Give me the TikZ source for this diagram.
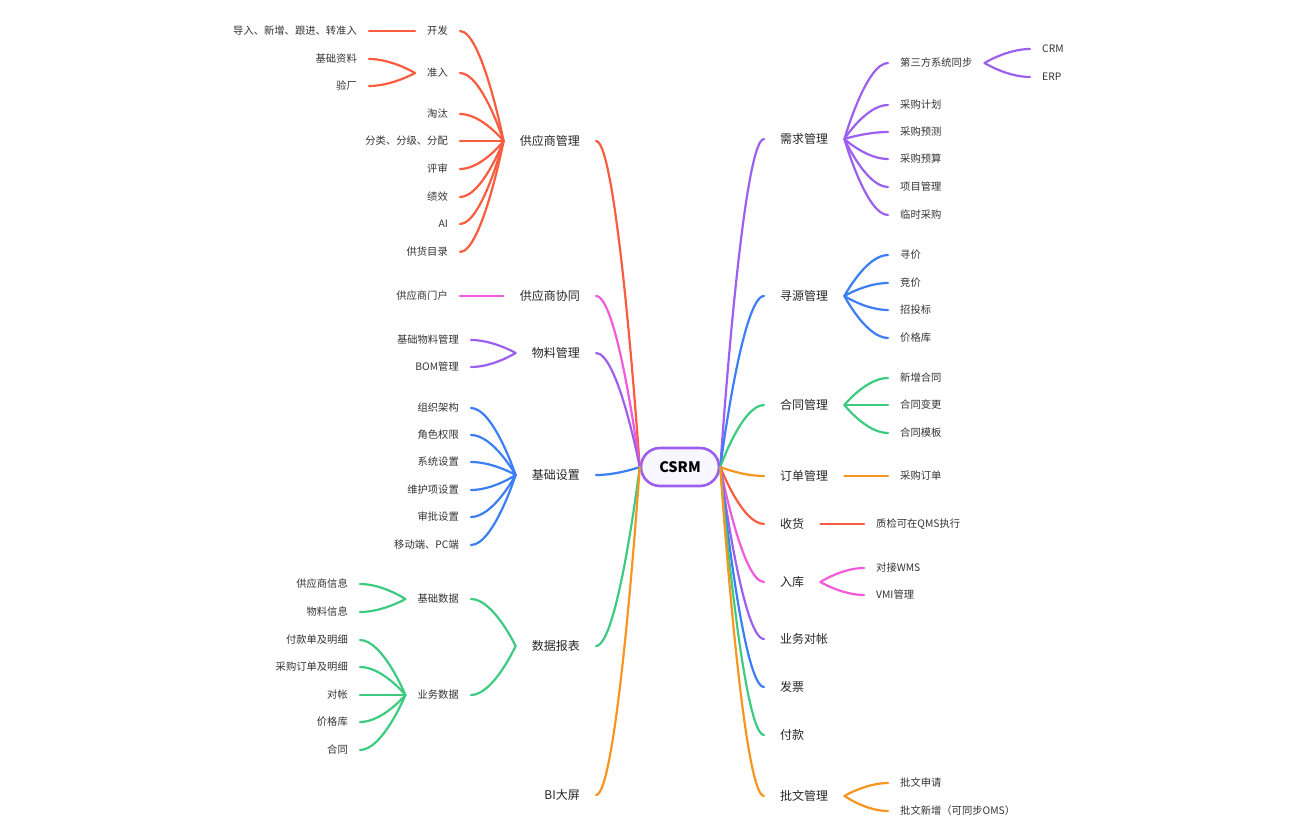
\documentclass[tikz,border=0pt]{standalone}
\usepackage{fontspec}
\setmainfont{Noto Sans CJK SC}
\usetikzlibrary{calc}
\definecolor{cred}{HTML}{F95C3E}
\definecolor{cpur}{HTML}{9C5FF0}
\definecolor{cblu}{HTML}{3C7EF6}
\definecolor{cgrn}{HTML}{3DCB80}
\definecolor{cpnk}{HTML}{F25ADC}
\definecolor{corg}{HTML}{F7951E}
\definecolor{txt}{HTML}{333333}
\definecolor{hubfill}{HTML}{F8F6FF}
\newcommand\mmlink[3]{\draw[link,#1] let \p1=(#2), \p2=(#3) in (\p1) .. controls ({\x1+0.5*(\x2-\x1)},\y1) and (\p2) .. (\p2);}
\begin{document}
\begin{tikzpicture}[x=1pt,y=-1pt,
  link/.style={line width=2.2pt,line cap=round},
  hub/.style={draw=cpur,line width=2.6pt,fill=hubfill,rounded corners=19pt,minimum width=78pt,minimum height=38pt,inner sep=0pt,font=\fontsize{14.5}{16}\selectfont\bfseries,text=black},
  lone/.style={font=\fontsize{12}{14}\selectfont,inner xsep=16pt,inner ysep=2pt,text=black!85,yshift=-1pt},
  ltwo/.style={font=\fontsize{10.3}{12}\selectfont,inner xsep=12pt,inner ysep=2pt,text=txt,yshift=-1pt},
  L/.style={anchor=east},
  R/.style={anchor=west}]
\useasboundingbox (0,0) rectangle (1296,840);
\node[hub] (c) at (680,467) {CSRM};
% left level 1
\node[lone,L] (s1) at (596,140) {供应商管理};
\node[lone,L] (s2) at (596,295) {供应商协同};
\node[lone,L] (s3) at (596,352) {物料管理};
\node[lone,L] (s4) at (596,474) {基础设置};
\node[lone,L] (s5) at (596,645) {数据报表};
\node[lone,L] (s6) at (596,794) {BI大屏};
% right level 1
\node[lone,R] (r1) at (764,138) {需求管理};
\node[lone,R] (r2) at (764,295) {寻源管理};
\node[lone,R] (r3) at (764,404) {合同管理};
\node[lone,R] (r4) at (764,475) {订单管理};
\node[lone,R] (r5) at (764,523) {收货};
\node[lone,R] (r6) at (764,581) {入库};
\node[lone,R] (r7) at (764,638) {业务对帐};
\node[lone,R] (r8) at (764,686) {发票};
\node[lone,R] (r9) at (764,734) {付款};
\node[lone,R] (r10) at (764,795) {批文管理};
% s1 children
\node[ltwo,L] (a1) at (460,30) {开发};
\node[ltwo,L] (a2) at (460,72) {准入};
\node[ltwo,L] (a3) at (460,113) {淘汰};
\node[ltwo,L] (a4) at (460,140) {分类、分级、分配};
\node[ltwo,L] (a5) at (460,168) {评审};
\node[ltwo,L] (a6) at (460,196) {绩效};
\node[ltwo,L] (a7) at (460,223) {AI};
\node[ltwo,L] (a8) at (460,251) {供货目录};
\node[ltwo,L] (a11) at (369,30) {导入、新增、跟进、转准入};
\node[ltwo,L] (a21) at (369,58) {基础资料};
\node[ltwo,L] (a22) at (369,85) {验厂};
% s2
\node[ltwo,L] (b1) at (460,295) {供应商门户};
% s3
\node[ltwo,L] (m1) at (471,339) {基础物料管理};
\node[ltwo,L] (m2) at (471,366) {BOM管理};
% s4
\node[ltwo,L] (j1) at (471,407) {组织架构};
\node[ltwo,L] (j2) at (471,434) {角色权限};
\node[ltwo,L] (j3) at (471,461) {系统设置};
\node[ltwo,L] (j4) at (471,489) {维护项设置};
\node[ltwo,L] (j5) at (471,516) {审批设置};
\node[ltwo,L] (j6) at (471,544) {移动端、PC端};
% s5
\node[ltwo,L] (d1) at (471,598) {基础数据};
\node[ltwo,L] (d2) at (471,694) {业务数据};
\node[ltwo,L] (d11) at (360,583) {供应商信息};
\node[ltwo,L] (d12) at (360,611) {物料信息};
\node[ltwo,L] (d21) at (360,639) {付款单及明细};
\node[ltwo,L] (d22) at (360,666) {采购订单及明细};
\node[ltwo,L] (d23) at (360,694) {对帐};
\node[ltwo,L] (d24) at (360,721) {价格库};
\node[ltwo,L] (d25) at (360,749) {合同};
% r1
\node[ltwo,R] (x1) at (888,62) {第三方系统同步};
\node[ltwo,R] (x2) at (888,104) {采购计划};
\node[ltwo,R] (x3) at (888,131) {采购预测};
\node[ltwo,R] (x4) at (888,158) {采购预算};
\node[ltwo,R] (x5) at (888,186) {项目管理};
\node[ltwo,R] (x6) at (888,214) {临时采购};
\node[ltwo,R] (x11) at (1030,48) {CRM};
\node[ltwo,R] (x12) at (1030,76) {ERP};
% r2
\node[ltwo,R] (y1) at (888,254) {寻价};
\node[ltwo,R] (y2) at (888,282) {竞价};
\node[ltwo,R] (y3) at (888,309) {招投标};
\node[ltwo,R] (y4) at (888,337) {价格库};
% r3
\node[ltwo,R] (h1) at (888,377) {新增合同};
\node[ltwo,R] (h2) at (888,404) {合同变更};
\node[ltwo,R] (h3) at (888,432) {合同模板};
% r4
\node[ltwo,R] (o1) at (888,475) {采购订单};
% r5
\node[ltwo,R] (q1) at (864,523) {质检可在QMS执行};
% r6
\node[ltwo,R] (w1) at (864,567) {对接WMS};
\node[ltwo,R] (w2) at (864,594) {VMI管理};
% r10
\node[ltwo,R] (p1) at (888,782) {批文申请};
\node[ltwo,R] (p2) at (888,810) {批文新增（可同步OMS）};
% hub links
\mmlink{cred}{s1.east}{c.west}
\mmlink{cpnk}{s2.east}{c.west}
\mmlink{cpur}{s3.east}{c.west}
\mmlink{cblu}{s4.east}{c.west}
\mmlink{cgrn}{s5.east}{c.west}
\mmlink{corg}{s6.east}{c.west}
\mmlink{cpur}{r1.west}{c.east}
\mmlink{cblu}{r2.west}{c.east}
\mmlink{cgrn}{r3.west}{c.east}
\mmlink{corg}{r4.west}{c.east}
\mmlink{cred}{r5.west}{c.east}
\mmlink{cpnk}{r6.west}{c.east}
\mmlink{cpur}{r7.west}{c.east}
\mmlink{cblu}{r8.west}{c.east}
\mmlink{cgrn}{r9.west}{c.east}
\mmlink{corg}{r10.west}{c.east}
% left sub links
\foreach \k in {a1,a2,a3,a4,a5,a6,a7,a8} {\mmlink{cred}{\k.east}{s1.west}}
\mmlink{cred}{a11.east}{a1.west}
\mmlink{cred}{a21.east}{a2.west}
\mmlink{cred}{a22.east}{a2.west}
\mmlink{cpnk}{b1.east}{s2.west}
\mmlink{cpur}{m1.east}{s3.west}
\mmlink{cpur}{m2.east}{s3.west}
\foreach \k in {j1,j2,j3,j4,j5,j6} {\mmlink{cblu}{\k.east}{s4.west}}
\mmlink{cgrn}{d1.east}{s5.west}
\mmlink{cgrn}{d2.east}{s5.west}
\mmlink{cgrn}{d11.east}{d1.west}
\mmlink{cgrn}{d12.east}{d1.west}
\foreach \k in {d21,d22,d23,d24,d25} {\mmlink{cgrn}{\k.east}{d2.west}}
% right sub links
\foreach \k in {x1,x2,x3,x4,x5,x6} {\mmlink{cpur}{\k.west}{r1.east}}
\mmlink{cpur}{x11.west}{x1.east}
\mmlink{cpur}{x12.west}{x1.east}
\foreach \k in {y1,y2,y3,y4} {\mmlink{cblu}{\k.west}{r2.east}}
\foreach \k in {h1,h2,h3} {\mmlink{cgrn}{\k.west}{r3.east}}
\mmlink{corg}{o1.west}{r4.east}
\mmlink{cred}{q1.west}{r5.east}
\mmlink{cpnk}{w1.west}{r6.east}
\mmlink{cpnk}{w2.west}{r6.east}
\mmlink{corg}{p1.west}{r10.east}
\mmlink{corg}{p2.west}{r10.east}
\end{tikzpicture}
\end{document}
